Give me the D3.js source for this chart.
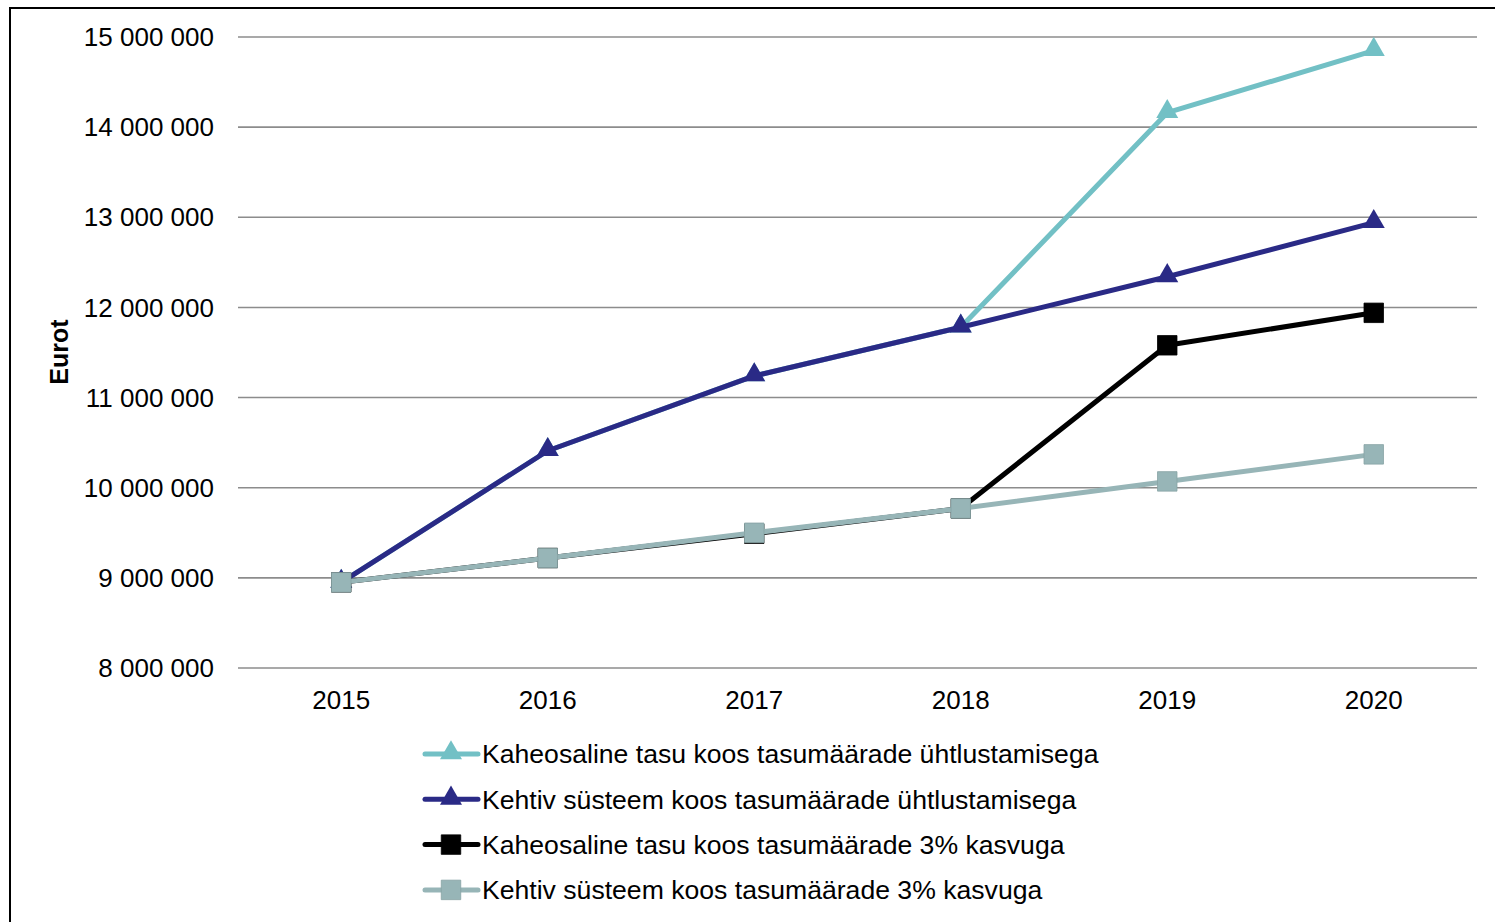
<!DOCTYPE html>
<html>
<head>
<meta charset="utf-8">
<script src="https://cdn.jsdelivr.net/npm/d3@7"></script>
<style>
  html, body { margin: 0; padding: 0; background: #fff; }
  svg { display: block; font-family: "Liberation Sans", Arial, sans-serif; }
</style>
</head>
<body>
<svg id="chart"></svg>
<script>
const years = ["2015", "2016", "2017", "2018", "2019", "2020"];
const yTicks = [8000000, 9000000, 10000000, 11000000, 12000000, 13000000, 14000000, 15000000];

const kaheosalineYhtlustamine = [8950000, 10410000, 11240000, 11780000, 14160000, 14850000];
const kehtivYhtlustamine = [8950000, 10410000, 11240000, 11780000, 12340000, 12940000];
const kaheosaline3 = [8950000, 9220000, 9490000, 9770000, 11580000, 11940000];
const kehtiv3 = [8950000, 9220000, 9500000, 9770000, 10070000, 10370000];

const seriesNames = [
  "Kaheosaline tasu koos tasumäärade ühtlustamisega",
  "Kehtiv süsteem koos tasumäärade ühtlustamisega",
  "Kaheosaline tasu koos tasumäärade 3% kasvuga",
  "Kehtiv süsteem koos tasumäärade 3% kasvuga"
];
const seriesValues = [kaheosalineYhtlustamine, kehtivYhtlustamine, kaheosaline3, kehtiv3];
const seriesColors = ["#72c0c5", "#2a2a86", "#000000", "#97b5b7"];
const seriesMarkers = ["triangle", "triangle", "square", "square"];

const width = 1495, height = 922;
const svg = d3.select("#chart").attr("width", width).attr("height", height);

// outer frame (only left and top edges fall inside the window)
svg.append("rect")
  .attr("x", 10).attr("y", 8)
  .attr("width", width + 20).attr("height", height + 20)
  .attr("fill", "#fff").attr("stroke", "#000").attr("stroke-width", 2);

const plot = { left: 238, right: 1477, top: 37, bottom: 668 };

const x = d3.scaleBand().domain(years).range([plot.left, plot.right]);
const y = d3.scaleLinear().domain([8000000, 15000000]).range([plot.bottom, plot.top]);

const fmt = v => d3.format(",")(v).replace(/,/g, " ");

// gridlines
svg.append("g")
  .selectAll("line")
  .data(yTicks)
  .join("line")
  .attr("x1", plot.left).attr("x2", plot.right)
  .attr("y1", d => y(d)).attr("y2", d => y(d))
  .attr("stroke", "#8c8c8c").attr("stroke-width", 1.6);

// y tick labels
svg.append("g")
  .selectAll("text")
  .data(yTicks)
  .join("text")
  .attr("x", 214)
  .attr("y", d => y(d))
  .attr("dy", "0.35em")
  .attr("text-anchor", "end")
  .style("font-size", "26px")
  .text(fmt);

// x tick labels
svg.append("g")
  .selectAll("text")
  .data(years)
  .join("text")
  .attr("x", d => x(d) + x.bandwidth() / 2)
  .attr("y", 709)
  .attr("text-anchor", "middle")
  .style("font-size", "26px")
  .text(d => d);

// y axis title
svg.append("text")
  .attr("transform", "translate(68,352) rotate(-90)")
  .attr("text-anchor", "middle")
  .style("font-size", "25px")
  .style("font-weight", "bold")
  .text("Eurot");

const line = d3.line()
  .x((d, i) => x(years[i]) + x.bandwidth() / 2)
  .y(d => y(d));

const tri = d3.symbol().type(d3.symbolTriangle).size(210);
const sq = d3.symbol().type(d3.symbolSquare).size(380);

function marker(g, type, color) {
  if (type === "triangle") {
    g.append("path").attr("d", tri()).attr("transform", "translate(0,-1)").attr("fill", color);
  } else {
    g.append("path").attr("d", sq()).attr("fill", color).attr("stroke", d3.color(color).darker(0.3)).attr("stroke-width", 0.8);
  }
}

seriesValues.forEach((vals, s) => {
  const g = svg.append("g");
  g.append("path")
    .datum(vals)
    .attr("d", line)
    .attr("fill", "none")
    .attr("stroke", seriesColors[s])
    .attr("stroke-width", 5)
    .attr("stroke-linejoin", "round");
  vals.forEach((v, i) => {
    const m = g.append("g")
      .attr("transform", `translate(${x(years[i]) + x.bandwidth() / 2},${y(v)})`);
    marker(m, seriesMarkers[s], seriesColors[s]);
  });
});

// legend
const legend = svg.append("g");
seriesNames.forEach((name, s) => {
  const ly = 754 + s * 45.3;
  const row = legend.append("g");
  row.append("line")
    .attr("x1", 425).attr("x2", 478)
    .attr("y1", ly).attr("y2", ly)
    .attr("stroke", seriesColors[s]).attr("stroke-width", 5)
    .attr("stroke-linecap", "round");
  const m = row.append("g").attr("transform", `translate(451,${ly})`);
  marker(m, seriesMarkers[s], seriesColors[s]);
  row.append("text")
    .attr("x", 482)
    .attr("y", ly)
    .attr("dy", "0.35em")
    .style("font-size", "26.6px")
    .text(name);
});
</script>
</body>
</html>
